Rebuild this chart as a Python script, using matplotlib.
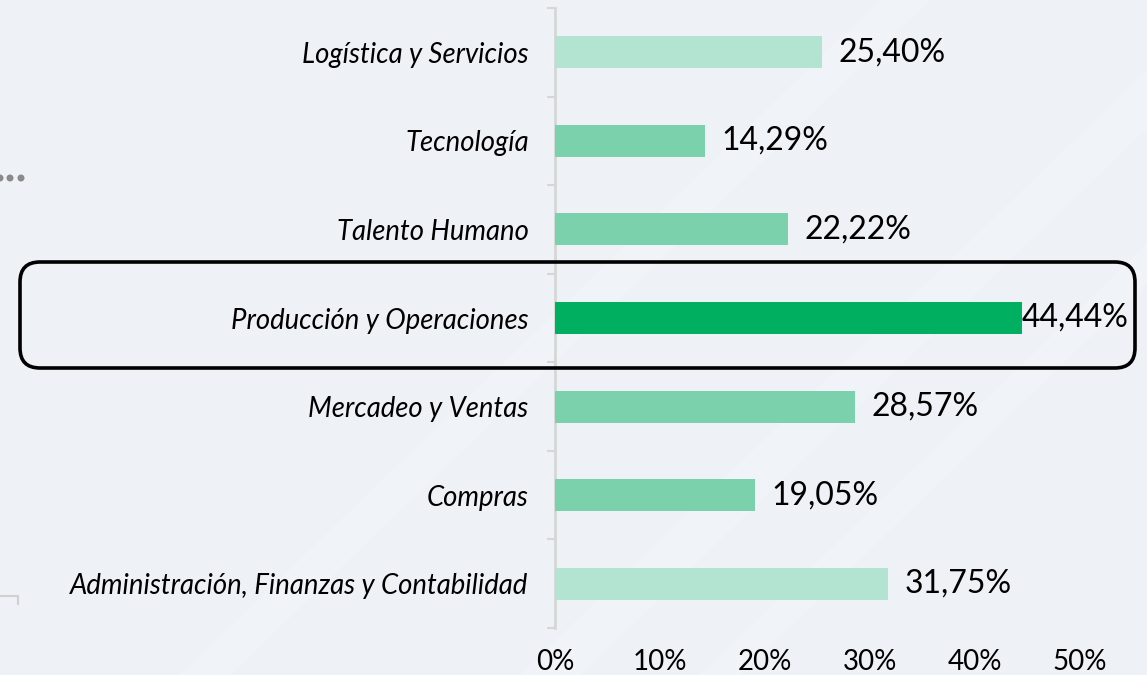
import numpy as np
import matplotlib
matplotlib.use("Agg")
import matplotlib.pyplot as plt
from matplotlib.patches import FancyBboxPatch, Polygon, Circle
from matplotlib.transforms import IdentityTransform

areas = [
    "Logística y Servicios",
    "Tecnología",
    "Talento Humano",
    "Producción y Operaciones",
    "Mercadeo y Ventas",
    "Compras",
    "Administración, Finanzas y Contabilidad",
]
porcentajes = [25.40, 14.29, 22.22, 44.44, 28.57, 19.05, 31.75]
colores = ["#b3e3d1", "#7bd1ac", "#7bd1ac", "#00b060", "#7bd1ac", "#7bd1ac", "#b3e3d1"]
destacado = "Producción y Operaciones"
xticks = [0, 10, 20, 30, 40, 50]

FONDO = "#eef2f6"
W, H = 1147, 675

fig = plt.figure(figsize=(W / 100, H / 100), dpi=100, facecolor=FONDO)

# franjas diagonales claras del fondo
for x0, ancho in [(520, 60), (700, 40), (180, 50)]:
    fig.patches.append(Polygon([(x0 / W, 0), ((x0 + ancho) / W, 0),
                                ((x0 + ancho + 700) / W, 1), ((x0 + 700) / W, 1)],
                               closed=True, transform=fig.transFigure,
                               facecolor="white", alpha=0.15, lw=0, zorder=-5))

ax = fig.add_axes([555 / W, (H - 628) / H, (W - 555) / W, 620 / H])
ax.set_facecolor("none")

y = np.arange(len(areas))
ax.barh(y, porcentajes, height=0.36, color=colores, zorder=3)
ax.set_ylim(len(areas) - 0.5, -0.5)
ax.set_xlim(0, (W - 555) / 10.5)

for yi, (a, v) in enumerate(zip(areas, porcentajes)):
    off = 0 if a == destacado else 12
    ax.annotate(f"{v:.2f}%".replace(".", ","), (v, yi), xytext=(off, 0),
                textcoords="offset points", va="center", ha="left",
                fontsize=23, family="Lato", color="black", zorder=4)

ax.set_yticks(y)
ax.set_yticklabels(areas, fontsize=19.8, family="Lato", style="italic")
ax.set_yticks(np.arange(len(areas) + 1) - 0.5, minor=True)
ax.tick_params(axis="y", which="major", length=0, pad=19)
ax.tick_params(axis="y", which="minor", length=6, width=1.5, color="#d6d6d6")

ax.set_xticks(xticks)
ax.set_xticklabels([f"{t}%" for t in xticks], fontsize=20, family="Lato")
ax.tick_params(axis="x", length=0, pad=15)

for s in ["top", "right", "bottom"]:
    ax.spines[s].set_visible(False)
ax.spines["left"].set_color("#d6d6d6")
ax.spines["left"].set_linewidth(2)

# recuadro de la fila destacada
fig.patches.append(FancyBboxPatch((20, H - 368), 1115, 106,
                                  boxstyle="round,pad=0,rounding_size=20",
                                  transform=IdentityTransform(), fill=False,
                                  edgecolor="black", lw=2.6, zorder=10))

# adornos a la izquierda
for cx in [0, 10, 21]:
    fig.patches.append(Circle((cx, H - 178), 2.8, transform=IdentityTransform(),
                              color="#8a8a8a", zorder=5))
fig.lines.append(plt.Line2D([0, 18, 18], [H - 596, H - 596, H - 604],
                            transform=IdentityTransform(), color="#d0d0d0", lw=1.5))

fig.savefig("out.png", dpi=100, facecolor=FONDO)
